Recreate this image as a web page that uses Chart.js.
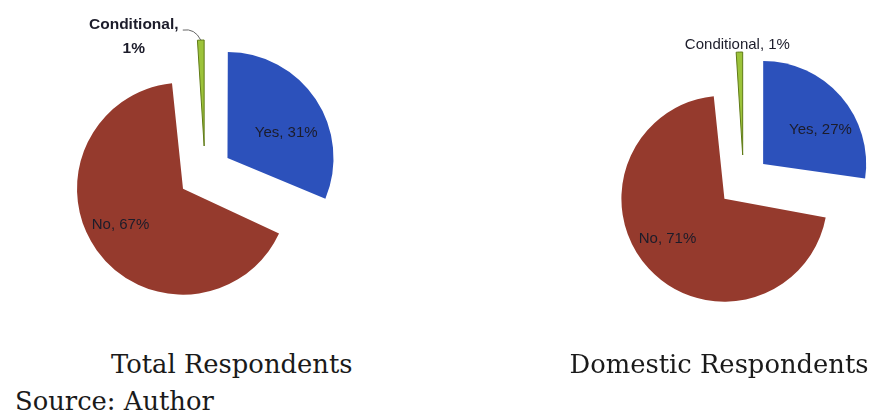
<!DOCTYPE html>
<html>
<head>
<meta charset="utf-8">
<script src="https://cdn.jsdelivr.net/npm/chart.js@4/dist/chart.umd.min.js"></script>
<style>
  html, body { margin: 0; padding: 0; background: #fff; }
  #wrap { position: relative; width: 873px; height: 416px; overflow: hidden; }
  canvas { position: absolute; }
  .cap { position: absolute; font-family: "DejaVu Serif", serif; font-size: 25.8px; color: #1a1a1a; white-space: nowrap; line-height: 26px; }
</style>
</head>
<body>
<div id="wrap">
  <canvas id="totalPie" width="410" height="346" style="left:0;top:0"></canvas>
  <canvas id="domesticPie" width="259" height="362" style="left:614px;top:0"></canvas>
  <div class="cap" id="t1">Total Respondents</div>
  <div class="cap" id="t2">Domestic Respondents</div>
  <div class="cap" id="src" style="left:15px;top:388px">Source: Author</div>
</div>
<script>
// дерек
const categories = ['Yes', 'No', 'Conditional'];
const totalValues = [31, 67, 1];
const domesticValues = [27, 71, 1];

const sliceColors = ['#2c51bb', '#953a2d', '#9cc33a'];
const sliceBorders = ['#2c51bb', '#953a2d', '#5f7a16'];
const labelFont = '"Liberation Sans", Arial, sans-serif';

// жапсырма орналасуы (пішін бойынша түзетулер)
const totalLabelNudge = [{ dx: 4, dy: 11 }, { dx: -9, dy: -2 }];
const domesticLabelNudge = [{ dx: 9, dy: 8 }, { dx: -10, dy: -3 }];

// Chart.js v4 arc: offset/4 жылжытады, радиусты offset/4 * fix үлкейтеді
const fixOf = a => 1 - Math.sin(Math.min(Math.PI, a.circumference || 0));

const labelPlugin = {
    id: 'sliceLabels',
    beforeDatasetsDraw(chart, args, opts) {
        const R = opts.radius;
        chart.getDatasetMeta(0).data.forEach((a, i) => {
            const extra = opts.shift * fixOf(a);
            // барлық тілімдер бірдей радиуста болсын
            a.outerRadius = R - extra;
            // жіңішке тілім жоғалып кетпесін
            if (i === 2) {
                const mid = (a.startAngle + a.endAngle) / 2;
                const half = (a.circumference + extra / (Math.PI * R)) / 2;
                a.startAngle = mid - half;
                a.endAngle = mid + half;
            }
        });
    },
    afterDatasetsDraw(chart, args, opts) {
        const { ctx } = chart;
        const arcs = chart.getDatasetMeta(0).data;
        const values = chart.data.datasets[0].data;
        const shift = opts.shift, R = opts.radius;
        const vx = a => a.x + Math.cos((a.startAngle + a.endAngle) / 2) * shift;
        const vy = a => a.y + Math.sin((a.startAngle + a.endAngle) / 2) * shift;
        ctx.save();
        ctx.fillStyle = '#1c1c2a';
        ctx.textAlign = 'center';
        ctx.textBaseline = 'middle';
        ctx.font = '15px ' + labelFont;
        // Yes / No ішкі жапсырмалар
        for (let i = 0; i < 2; i++) {
            const a = arcs[i];
            const mid = (a.startAngle + a.endAngle) / 2;
            const d = R * 0.62;
            const n = opts.nudge[i];
            ctx.fillText(categories[i] + ', ' + values[i] + '%',
                vx(a) + Math.cos(mid) * d + n.dx, vy(a) + Math.sin(mid) * d + n.dy);
        }
        // Conditional сыртқы жапсырма
        const g = arcs[2];
        const gm = (g.startAngle + g.endAngle) / 2;
        const tipX = vx(g) + Math.cos(gm) * R;
        const tipY = vy(g) + Math.sin(gm) * R;
        if (opts.twoLine) {
            ctx.font = 'bold 15.5px ' + labelFont;
            ctx.fillText(categories[2] + ',', tipX - 67, tipY - 15);
            ctx.fillText(values[2] + '%', tipX - 67, tipY + 9);
            ctx.strokeStyle = '#666';
            ctx.lineWidth = 1;
            ctx.beginPath();
            ctx.moveTo(tipX - 18, tipY - 10);
            ctx.quadraticCurveTo(tipX - 6, tipY - 12, tipX, tipY);
            ctx.stroke();
        } else {
            ctx.fillText(categories[2] + ', ' + values[2] + '%', tipX - 2, tipY - 7);
        }
        ctx.restore();
    }
};

function makePie(id, values, radius, shift, nudge, twoLine) {
    return new Chart(document.getElementById(id), {
        type: 'pie',
        data: {
            labels: categories,
            datasets: [{
                data: values,
                backgroundColor: sliceColors,
                borderColor: sliceBorders,
                borderWidth: [0, 0, 1],
                offset: shift * 4
            }]
        },
        options: {
            responsive: false,
            animation: false,
            radius: radius,
            layout: { padding: 0 },
            plugins: {
                legend: { display: false },
                tooltip: { enabled: false },
                sliceLabels: { nudge: nudge, twoLine: twoLine, shift: shift, radius: radius }
            }
        },
        plugins: [labelPlugin]
    });
}

makePie('totalPie', totalValues, 106, 27, totalLabelNudge, true);
makePie('domesticPie', domesticValues, 103, 26, domesticLabelNudge, false);

// тақырыптарды ортаға қою
function centerCap(id, cx, top) {
    const el = document.getElementById(id);
    el.style.top = top + 'px';
    el.style.left = (cx - el.offsetWidth / 2) + 'px';
}
centerCap('t1', 232, 351);
centerCap('t2', 719, 351);
</script>
</body>
</html>
